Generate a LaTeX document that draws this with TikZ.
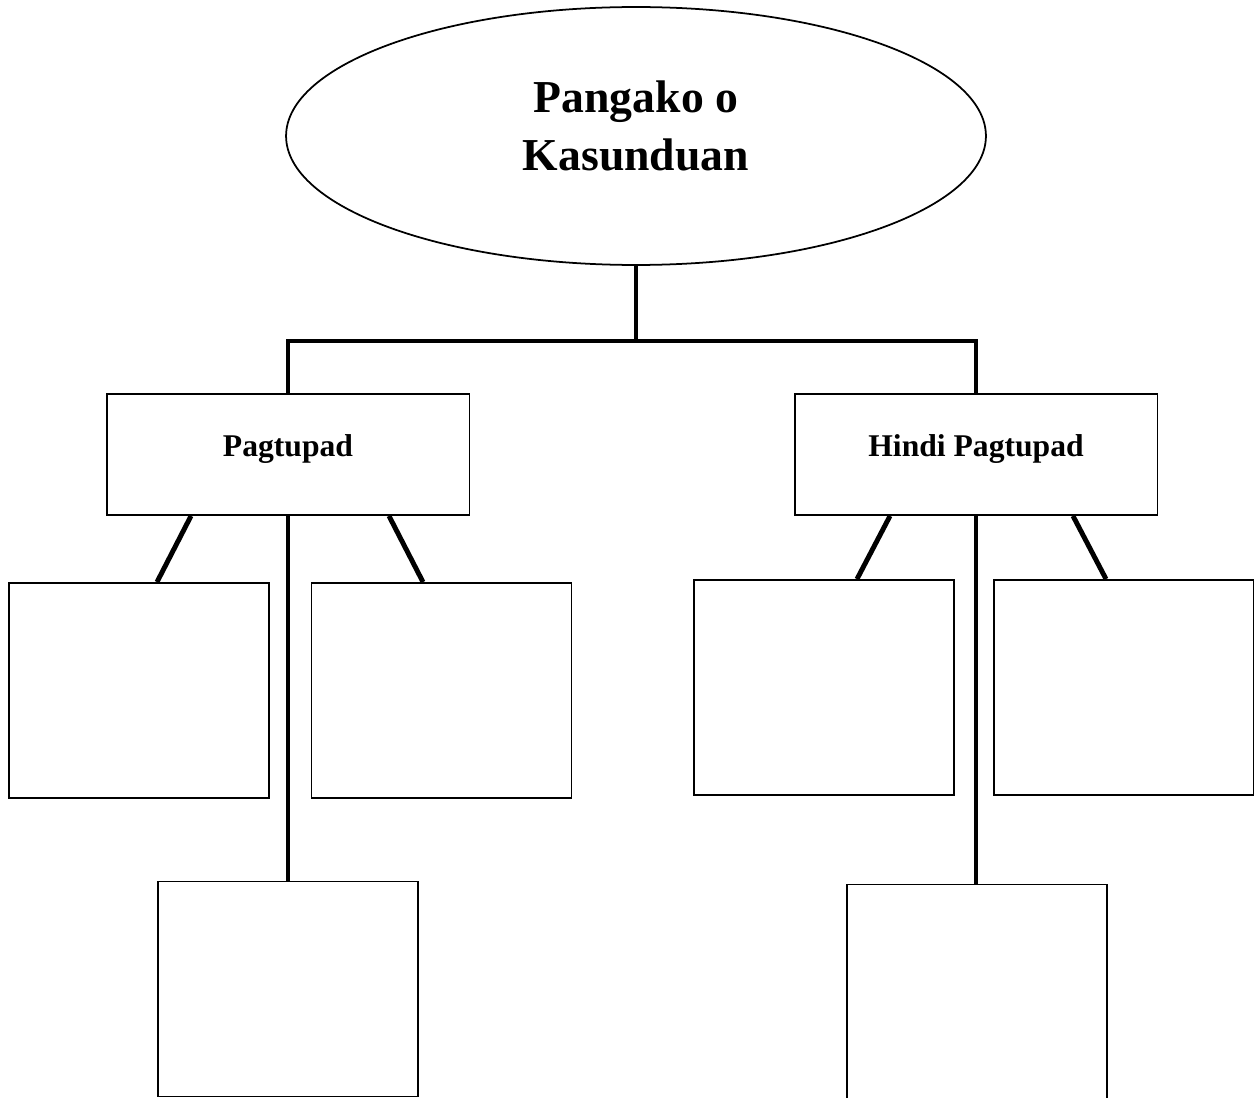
\documentclass[tikz,border=0pt]{standalone}
\usepackage{fontspec}
\setmainfont{Liberation Serif}
\usetikzlibrary{shapes.geometric,calc}
\begin{document}
\begin{tikzpicture}[x=0.02cm,y=-0.02cm,
        link/.style={line width=2.8pt},
        branch/.style={draw,line width=1.1pt,minimum width=7.26cm,minimum height=2.42cm,inner sep=0pt,text depth=0.37cm,font=\fontsize{18}{22}\selectfont\bfseries},
        leaf/.style={draw,line width=1.1pt,minimum width=5.2cm,minimum height=4.3cm,inner sep=0pt}]
        \useasboundingbox (0,0) rectangle (1254,1098);

        \node[draw,ellipse,line width=1pt,minimum width=14cm,minimum height=5.16cm,inner sep=0pt,align=center,text depth=0.42cm,font=\fontsize{26}{33}\selectfont\bfseries] (root) at (636,136) {Pangako o\\Kasunduan};

        \node[branch] (tupad) at (288,454.5) {Pagtupad};
        \node[branch] (hinditupad) at (976,454.5) {Hindi Pagtupad};

        \node[leaf] (la) at (139,690.5) {}; \node[leaf] (lb) at (441.5,690.5) {};
        \node[leaf] (lc) at (288,989) {};
        \node[leaf] (ra) at (824,687.5) {}; \node[leaf] (rb) at (1124,687.5) {};
        \node[leaf] (rc) at (977,992) {};

        \coordinate (split) at (636,341);
        \draw[link] (root.south) -- (split);
        \draw[link] (split) -| (tupad.north); \draw[link] (split) -| (hinditupad.north);

        \draw[link] ($(tupad.south)+(-97,0)$) -- ($(la.north)+(18,0)$);
        \draw[link] ($(tupad.south)+(101,0)$) -- ($(lb.north)+(-18.5,0)$);
        \draw[link] (tupad.south) -- (lc.north);

        \draw[link] ($(hinditupad.south)+(-86,0)$) -- ($(ra.north)+(33,0)$);
        \draw[link] ($(hinditupad.south)+(97,0)$) -- ($(rb.north)+(-18,0)$);
        \draw[link] (hinditupad.south) -- (hinditupad.south |- rc.north);

    \end{tikzpicture}
\end{document}
